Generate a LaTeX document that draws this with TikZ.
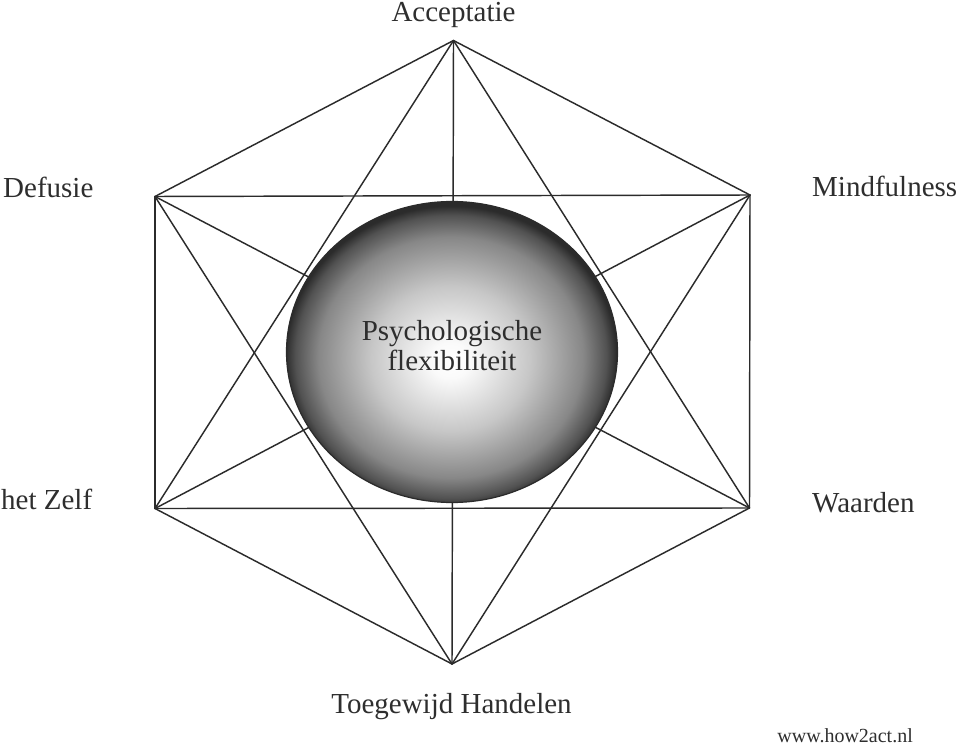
\documentclass[tikz,border=0pt]{standalone}
\usepackage{fontspec}
\setmainfont{Liberation Serif}
\usetikzlibrary{shapes.geometric}
\definecolor{sh0}{gray}{1.0}
\definecolor{sh1}{gray}{0.98}
\definecolor{sh2}{gray}{0.78}
\definecolor{sh3}{gray}{0.53}
\definecolor{sh4}{gray}{0.32}
\definecolor{sh5}{gray}{0.17}
\definecolor{linec}{gray}{0.17}
\definecolor{textc}{gray}{0.18}
\pgfdeclareradialshading{pfball}{\pgfpoint{-0.3bp}{-1.5bp}}{%
  color(0bp)=(sh0); color(3bp)=(sh1); color(12bp)=(sh2);
  color(20bp)=(sh3); color(23.5bp)=(sh4); color(25bp)=(sh5); color(50bp)=(sh5)}
\begin{document}
\begin{tikzpicture}[x=1pt,y=-1pt,
  edge/.style={draw=linec, line width=1.45pt},
  lbl/.style={text=textc, font=\fontsize{29}{34}\selectfont, inner sep=0pt},
  small/.style={text=textc, font=\fontsize{20}{24}\selectfont, inner sep=0pt},
  core/.style={ellipse, minimum width=331pt, minimum height=301pt, inner sep=0pt,
    shading=pfball, draw=sh5, line width=1.2pt}]
\fill[white] (0,0) rectangle (959,746);
\useasboundingbox (0,0) rectangle (959,746);
% vertices
\coordinate (A) at (453.5,40.5);
\coordinate (M) at (750,195);
\coordinate (W) at (749.5,508);
\coordinate (T) at (452,664);
\coordinate (Z) at (155,508.5);
\coordinate (D) at (155,196.5);
% complete graph
\foreach \p/\q in {A/M,A/W,A/T,A/Z,A/D,M/W,M/T,M/Z,M/D,W/T,W/Z,W/D,T/Z,T/D,Z/D}
  \draw[edge, line cap=round, line join=round] (\p) -- (\q);
% central ellipse
\node[core] (pf) at (452,352) {};
\node[lbl, align=center, font=\fontsize{29}{30}\selectfont] (pftext) at (452,346) {Psychologische\\flexibiliteit};
% labels
\node[lbl, anchor=base] (lA) at (453.5,21.5) {Acceptatie};
\node[lbl, anchor=base west] (lD) at (3,198) {Defusie};
\node[lbl, anchor=base west] (lM) at (812,197) {Mindfulness};
\node[lbl, anchor=base west] (lW) at (812,512) {Waarden};
\node[lbl, anchor=base west] (lZ) at (1,509) {het Zelf};
\node[lbl, anchor=base] (lT) at (451.5,713) {Toegewijd Handelen};
\node[small, anchor=base east] (www) at (913,742) {www.how2act.nl};
\end{tikzpicture}
\end{document}
